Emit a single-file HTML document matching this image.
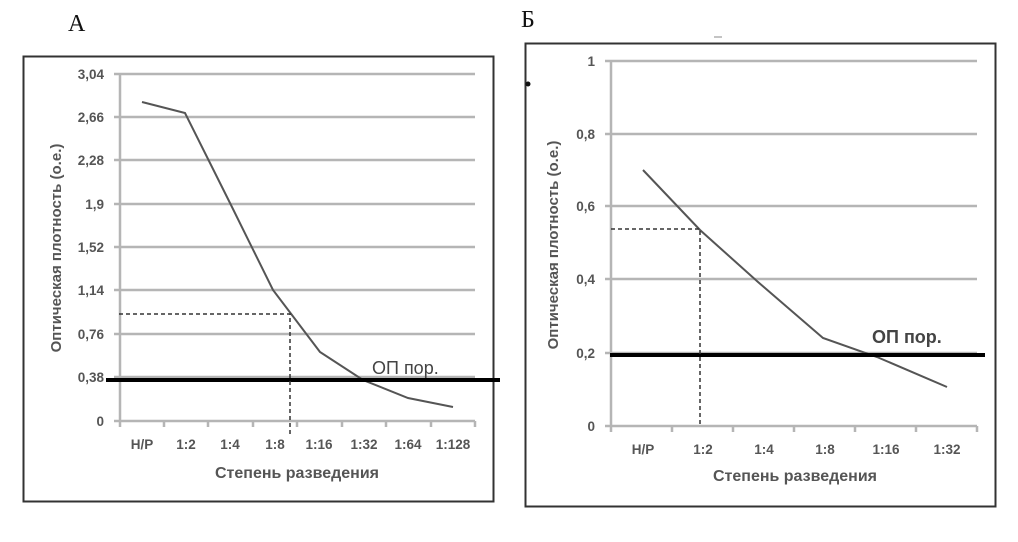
<!DOCTYPE html>
<html><head><meta charset="utf-8"><style>
html,body{margin:0;padding:0;background:#fff;}
svg{display:block}
text{font-family:"Liberation Sans",sans-serif;}
.t{font-size:13.5px;font-weight:bold;fill:#555;}
.g{stroke:#b5b5b5;stroke-width:2.5;}
</style></head><body>
<svg width="1018" height="542" viewBox="0 0 1018 542" xmlns="http://www.w3.org/2000/svg">
<!-- Panel A -->
<text x="68" y="31" style="font-family:'Liberation Serif',serif" font-size="24" fill="#111">А</text>
<rect x="23.5" y="56.5" width="470" height="445" fill="none" stroke="#333" stroke-width="2"/>
<g class="g">
<line x1="114" y1="74" x2="475" y2="74"/><line x1="114" y1="117" x2="475" y2="117"/>
<line x1="114" y1="160" x2="475" y2="160"/><line x1="114" y1="204" x2="475" y2="204"/>
<line x1="114" y1="247" x2="475" y2="247"/><line x1="114" y1="290" x2="475" y2="290"/>
<line x1="114" y1="334" x2="475" y2="334"/><line x1="114" y1="377" x2="475" y2="377"/>
<line x1="114" y1="421" x2="475" y2="421"/>
<line x1="120" y1="74" x2="120" y2="427"/>
<line x1="164" y1="421" x2="164" y2="427"/><line x1="208" y1="421" x2="208" y2="427"/>
<line x1="253" y1="421" x2="253" y2="427"/><line x1="297" y1="421" x2="297" y2="427"/>
<line x1="342" y1="421" x2="342" y2="427"/><line x1="386" y1="421" x2="386" y2="427"/>
<line x1="431" y1="421" x2="431" y2="427"/><line x1="475" y1="421" x2="475" y2="427"/>
</g>
<g class="t" text-anchor="end">
<text x="104" y="79">3,04</text><text x="104" y="122">2,66</text><text x="104" y="165">2,28</text>
<text x="104" y="209">1,9</text><text x="104" y="252">1,52</text><text x="104" y="295">1,14</text>
<text x="104" y="339">0,76</text><text x="104" y="382">0,38</text><text x="104" y="426">0</text>
</g>
<g class="t" text-anchor="middle">
<text x="142" y="449">Н/Р</text><text x="186" y="449">1:2</text><text x="230" y="449">1:4</text>
<text x="275" y="449">1:8</text><text x="319" y="449">1:16</text><text x="364" y="449">1:32</text>
<text x="408" y="449">1:64</text><text x="453" y="449">1:128</text>
<text x="297" y="478" font-size="16">Степень разведения</text>
<text transform="translate(61,248) rotate(-90)" font-size="15">Оптическая плотность (о.е.)</text>
</g>
<polyline points="142,102 185,113 230,203 273,290 320,352 363,380 408,398 453,407" fill="none" stroke="#555" stroke-width="2"/>
<line x1="106" y1="380" x2="500" y2="380" stroke="#000" stroke-width="4"/>
<path d="M119 314H290V435" fill="none" stroke="#333" stroke-width="1.5" stroke-dasharray="4,3"/>
<text x="372" y="374" font-size="18" fill="#444">ОП пор.</text>

<!-- Panel Б -->
<text x="521" y="27" style="font-family:'Liberation Serif',serif" font-size="24" fill="#111">Б</text>
<rect x="525.5" y="43.5" width="470" height="463" fill="none" stroke="#333" stroke-width="2"/>
<circle cx="528" cy="84" r="2.5" fill="#111"/>
<line x1="714" y1="37" x2="722" y2="37" stroke="#888" stroke-width="1"/>
<g class="g">
<line x1="605" y1="61" x2="977" y2="61"/><line x1="605" y1="134" x2="977" y2="134"/>
<line x1="605" y1="206" x2="977" y2="206"/><line x1="605" y1="279" x2="977" y2="279"/>
<line x1="605" y1="353" x2="977" y2="353"/><line x1="605" y1="426" x2="977" y2="426"/>
<line x1="611" y1="61" x2="611" y2="432"/>
<line x1="672" y1="426" x2="672" y2="432"/><line x1="733" y1="426" x2="733" y2="432"/>
<line x1="794" y1="426" x2="794" y2="432"/><line x1="855" y1="426" x2="855" y2="432"/>
<line x1="916" y1="426" x2="916" y2="432"/><line x1="977" y1="426" x2="977" y2="432"/>
</g>
<g class="t" text-anchor="end">
<text x="595" y="66">1</text><text x="595" y="139">0,8</text><text x="595" y="211">0,6</text>
<text x="595" y="284">0,4</text><text x="595" y="358">0,2</text><text x="595" y="431">0</text>
</g>
<g class="t" text-anchor="middle">
<text x="643" y="454">Н/Р</text><text x="703" y="454">1:2</text><text x="764" y="454">1:4</text>
<text x="825" y="454">1:8</text><text x="886" y="454">1:16</text><text x="947" y="454">1:32</text>
<text x="795" y="481" font-size="16">Степень разведения</text>
<text transform="translate(558,245) rotate(-90)" font-size="15">Оптическая плотность (о.е.)</text>
</g>
<polyline points="643,170 700,230 758,282 823,338 877,357 947,387" fill="none" stroke="#555" stroke-width="2"/>
<line x1="610" y1="355" x2="985" y2="355" stroke="#000" stroke-width="4"/>
<path d="M611 229H700V426" fill="none" stroke="#333" stroke-width="1.5" stroke-dasharray="4,3"/>
<text x="872" y="343" font-size="18" font-weight="bold" fill="#444">ОП пор.</text>
</svg>
</body></html>
